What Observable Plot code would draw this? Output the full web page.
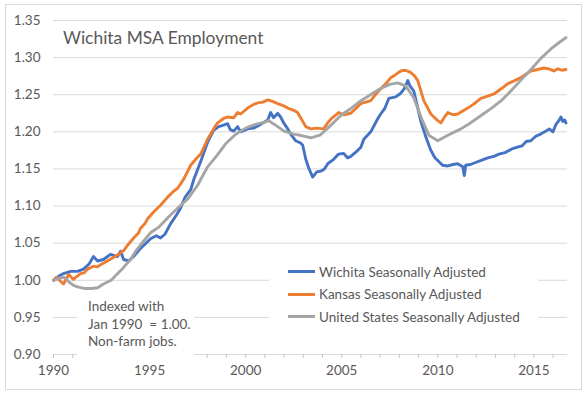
<!DOCTYPE html>
<html>
<head>
<meta charset="utf-8">
<script src="https://cdn.jsdelivr.net/npm/d3@7"></script>
<script src="https://cdn.jsdelivr.net/npm/@observablehq/plot@0.6"></script>
<style>
  html, body { margin: 0; padding: 0; background: #fff; }
  #wrap { position: relative; width: 586px; height: 394px; background: #fff; font-family: Lato, sans-serif; color: #595959; overflow: hidden; }
  #frame { position: absolute; left: 5px; top: 4px; width: 575px; height: 384px; border: 1px solid #d9d9d9; pointer-events: none; }
  #chart { position: absolute; left: 0; top: 0; }
  #title { position: absolute; left: 63px; top: 29px; font-size: 17.4px; line-height: 1; white-space: nowrap; color: #595959; }
  #legend { position: absolute; left: 269px; top: 258px; width: 269px; height: 70px; background: #fff; }
  #legend .row { position: absolute; left: 19px; height: 22.5px; display: flex; align-items: center; font-size: 13.5px; white-space: nowrap; }
  #legend .sw { width: 27px; height: 3px; margin-right: 4px; }
  #note { position: absolute; left: 77px; top: 298px; width: 117px; height: 62px; background: #fff; }
  #note div { position: absolute; left: 11px; top: 0; font-size: 13.5px; line-height: 17.5px; white-space: nowrap; }
</style>
</head>
<body>
<div id="wrap">
  <div id="chart"></div>
  <div id="frame"></div>
  <div id="title"></div>
  <div id="legend"></div>
  <div id="note"><div></div></div>
</div>
<script>
// ---- data (year as decimal, employment index Jan 1990 = 1.00) ----
const titleText = "Wichita MSA Employment";
const seriesNames = ["Wichita Seasonally Adjusted", "Kansas Seasonally Adjusted", "United States Seasonally Adjusted"];
const seriesColors = ["#4472c4", "#ed7d31", "#a5a5a5"];
const noteLines = ["Indexed with", "Jan 1990  = 1.00.", "Non-farm jobs."];
const yTicks = [0.90, 0.95, 1.00, 1.05, 1.10, 1.15, 1.20, 1.25, 1.30, 1.35];
const xLabelYears = [1990, 1995, 2000, 2005, 2010, 2015];
const xTickYears = d3.range(1990, 2017);

const wichita = [
  [1990.00,1.000],[1990.30,1.006],[1990.52,1.009],[1990.89,1.012],[1991.25,1.012],[1991.56,1.015],
  [1991.85,1.022],[1992.08,1.032],[1992.29,1.026],[1992.60,1.028],[1992.97,1.035],[1993.33,1.032],
  [1993.49,1.039],[1993.65,1.028],[1993.91,1.026],[1994.17,1.032],[1994.53,1.043],[1995.05,1.056],
  [1995.35,1.060],[1995.57,1.057],[1995.80,1.062],[1996.09,1.076],[1996.40,1.088],[1996.61,1.097],
  [1996.85,1.112],[1997.14,1.122],[1997.29,1.135],[1997.66,1.160],[1998.02,1.186],[1998.33,1.202],
  [1998.60,1.207],[1998.85,1.209],[1999.06,1.211],[1999.20,1.203],[1999.38,1.201],[1999.58,1.207],
  [1999.74,1.200],[2000.10,1.204],[2000.42,1.205],[2000.63,1.208],[2000.95,1.213],[2001.15,1.216],
  [2001.30,1.226],[2001.45,1.219],[2001.67,1.225],[2001.82,1.220],[2001.98,1.212],[2002.19,1.204],
  [2002.34,1.197],[2002.60,1.188],[2002.86,1.185],[2002.97,1.182],[2003.13,1.163],[2003.30,1.150],
  [2003.49,1.139],[2003.70,1.146],[2003.91,1.147],[2004.10,1.150],[2004.27,1.157],[2004.58,1.163],
  [2004.84,1.170],[2005.10,1.171],[2005.30,1.165],[2005.47,1.167],[2005.75,1.173],[2005.99,1.179],
  [2006.15,1.190],[2006.51,1.200],[2006.88,1.218],[2007.03,1.224],[2007.25,1.232],[2007.45,1.245],
  [2007.81,1.247],[2008.07,1.252],[2008.25,1.258],[2008.44,1.269],[2008.55,1.262],[2008.75,1.255],
  [2008.96,1.232],[2009.11,1.215],[2009.38,1.193],[2009.64,1.175],[2009.85,1.165],[2010.05,1.160],
  [2010.25,1.155],[2010.52,1.154],[2010.80,1.156],[2011.04,1.157],[2011.30,1.153],[2011.38,1.141],
  [2011.45,1.155],[2011.70,1.156],[2012.00,1.159],[2012.29,1.162],[2012.60,1.165],[2012.92,1.167],
  [2013.18,1.170],[2013.50,1.172],[2013.85,1.177],[2014.10,1.179],[2014.38,1.181],[2014.60,1.187],
  [2014.84,1.188],[2015.10,1.194],[2015.35,1.197],[2015.63,1.201],[2015.80,1.204],[2015.99,1.200],
  [2016.15,1.210],[2016.30,1.215],[2016.41,1.220],[2016.51,1.214],[2016.60,1.216],[2016.67,1.212]
];

const kansas = [
  [1990.00,1.000],[1990.15,1.004],[1990.35,0.999],[1990.52,0.995],[1990.70,1.003],[1990.78,1.008],
  [1991.04,1.001],[1991.15,1.004],[1991.41,1.009],[1991.60,1.010],[1991.77,1.015],[1992.08,1.019],
  [1992.29,1.018],[1992.45,1.021],[1992.81,1.026],[1993.13,1.031],[1993.33,1.034],[1993.65,1.040],
  [1993.85,1.047],[1994.17,1.057],[1994.40,1.063],[1994.53,1.070],[1994.75,1.076],[1994.90,1.083],
  [1995.21,1.092],[1995.57,1.101],[1995.94,1.112],[1996.25,1.120],[1996.46,1.124],[1996.77,1.136],
  [1997.14,1.155],[1997.40,1.163],[1997.66,1.170],[1998.02,1.190],[1998.33,1.204],[1998.54,1.212],
  [1998.85,1.218],[1999.06,1.220],[1999.38,1.219],[1999.58,1.226],[1999.74,1.224],[2000.10,1.232],
  [2000.42,1.237],[2000.63,1.239],[2000.90,1.240],[2001.15,1.243],[2001.40,1.241],[2001.67,1.238],
  [2001.98,1.235],[2002.19,1.232],[2002.50,1.229],[2002.70,1.226],[2002.86,1.219],[2003.13,1.207],
  [2003.39,1.204],[2003.70,1.205],[2004.06,1.204],[2004.27,1.212],[2004.43,1.217],[2004.84,1.226],
  [2005.10,1.223],[2005.47,1.225],[2005.75,1.232],[2005.99,1.238],[2006.51,1.242],[2006.75,1.250],
  [2007.03,1.258],[2007.30,1.265],[2007.55,1.273],[2007.80,1.277],[2008.07,1.282],[2008.30,1.283],
  [2008.59,1.280],[2008.80,1.275],[2008.96,1.269],[2009.27,1.242],[2009.64,1.224],[2010.00,1.215],
  [2010.16,1.212],[2010.35,1.220],[2010.52,1.226],[2010.80,1.223],[2011.04,1.224],[2011.30,1.228],
  [2011.56,1.232],[2011.90,1.238],[2012.24,1.245],[2012.60,1.248],[2012.92,1.251],[2013.30,1.258],
  [2013.65,1.265],[2014.00,1.269],[2014.32,1.273],[2014.60,1.278],[2014.84,1.282],[2015.20,1.284],
  [2015.52,1.286],[2015.75,1.285],[2016.04,1.282],[2016.25,1.285],[2016.45,1.283],[2016.67,1.284]
];

const unitedStates = [
  [1990.00,1.000],[1990.30,1.003],[1990.55,1.004],[1990.80,0.998],[1991.04,0.993],[1991.25,0.991],
  [1991.60,0.989],[1992.00,0.989],[1992.30,0.990],[1992.60,0.995],[1993.00,1.000],[1993.30,1.008],
  [1993.60,1.016],[1994.01,1.028],[1994.30,1.040],[1994.60,1.050],[1995.05,1.064],[1995.50,1.072],
  [1996.09,1.088],[1996.50,1.098],[1997.00,1.110],[1997.50,1.128],[1998.00,1.152],[1998.50,1.168],
  [1999.00,1.185],[1999.50,1.197],[2000.00,1.205],[2000.50,1.210],[2001.00,1.213],[2001.20,1.215],
  [2001.50,1.210],[2002.00,1.201],[2002.50,1.197],[2002.90,1.195],[2003.40,1.192],[2003.90,1.196],
  [2004.40,1.208],[2004.95,1.222],[2005.50,1.232],[2006.00,1.242],[2006.50,1.250],[2007.00,1.258],
  [2007.50,1.264],[2007.92,1.266],[2008.33,1.262],[2008.75,1.246],[2009.20,1.215],[2009.55,1.195],
  [2010.00,1.188],[2010.50,1.195],[2011.20,1.204],[2011.70,1.212],[2012.25,1.222],[2012.80,1.232],
  [2013.30,1.242],[2013.80,1.255],[2014.30,1.269],[2014.85,1.284],[2015.36,1.299],[2015.90,1.312],
  [2016.30,1.320],[2016.67,1.327]
];

const seriesData = [wichita, kansas, unitedStates];

// ---- chart ----
const lineMarks = seriesData.map((data, i) =>
  Plot.line(data, {x: d => d[0], y: d => d[1], stroke: seriesColors[i], strokeWidth: 2.9, strokeLinejoin: "round"})
);

const chart = Plot.plot({
  width: 586,
  height: 394,
  marginLeft: 53,
  marginRight: 19,
  marginTop: 20,
  marginBottom: 40,
  style: {fontFamily: "Lato, sans-serif", fontSize: "13.5px", color: "#595959", background: "transparent", overflow: "visible"},
  x: {domain: [1990, 2016.75]},
  y: {domain: [0.90, 1.35]},
  marks: [
    Plot.ruleY(yTicks, {stroke: "#d9d9d9", strokeWidth: 1}),
    Plot.axisY({ticks: yTicks, tickSize: 0, tickPadding: 13, tickFormat: d3.format(".2f"), fill: "#595959", fontSize: 13.5}),
    Plot.axisX({ticks: xTickYears, tickSize: 4, tickFormat: () => "", stroke: "#c8c8c8"}),
    Plot.axisX({ticks: xLabelYears, tickSize: 0, tickPadding: 11, tickFormat: d3.format("d"), fill: "#595959", fontSize: 13.5}),
    ...lineMarks
  ]
});
document.getElementById("chart").appendChild(chart);

// ---- title, legend, note ----
document.getElementById("title").textContent = titleText;

const legend = document.getElementById("legend");
seriesNames.forEach((name, i) => {
  const row = document.createElement("div");
  row.className = "row";
  row.style.top = (2.5 + i * 22.5) + "px";
  const sw = document.createElement("span");
  sw.className = "sw";
  sw.style.background = seriesColors[i];
  const tx = document.createElement("span");
  tx.textContent = name;
  row.appendChild(sw);
  row.appendChild(tx);
  legend.appendChild(row);
});

const noteDiv = document.querySelector("#note div");
noteLines.forEach((t, i) => {
  const l = document.createElement("div");
  l.style.position = "static";
  l.style.whiteSpace = "pre";
  l.textContent = t;
  noteDiv.appendChild(l);
});
</script>
</body>
</html>
